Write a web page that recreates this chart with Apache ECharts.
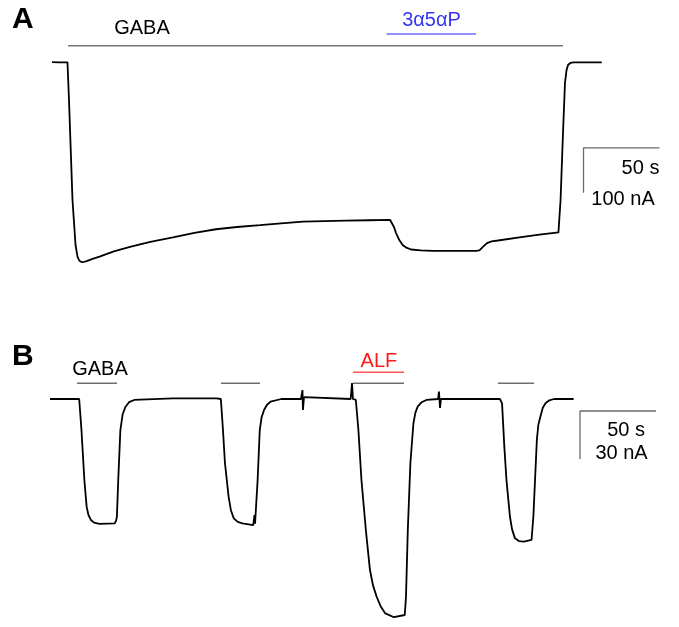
<!DOCTYPE html>
<html>
<head>
<meta charset="utf-8">
<script src="https://cdn.jsdelivr.net/npm/echarts@6/dist/echarts.min.js"></script>
<style>
html,body{margin:0;padding:0;background:#fff;}
#chart{width:679px;height:627px;}
</style>
</head>
<body>
<div id="chart"></div>
<script>
// ---- Panel A trace: [time (s), current (nA)] ----
var traceA = [
  [1.3, 0.5], [6, 0], [11.5, 0], [12.5, -84], [14.8, -306], [16.8, -406], [18.1, -432],
  [19.3, -441], [20.7, -444], [22.4, -443.5], [24.1, -442], [28, -437], [32.6, -432],
  [42, -420], [52.6, -410], [66, -399], [80.9, -389], [95, -379], [109.2, -371],
  [123, -366], [138.2, -362], [152, -358], [166.4, -354], [180, -353], [194.7, -352],
  [210, -351], [223.7, -350], [225, -352], [226.3, -366], [227.6, -379], [229.8, -395],
  [232, -406], [234.5, -412], [237.5, -416], [244, -418], [252, -419], [280.3, -419],
  [282.5, -418], [283.6, -416], [285.5, -408], [287.5, -402], [290.5, -398], [294.7, -396],
  [308.9, -389], [322, -383], [334.5, -378], [335.9, -306], [337.5, -157], [338.8, -46],
  [339.8, -18], [340.8, -6], [342.3, -1.5], [344.5, 0], [363, 0]
];
// ---- Panel B trace ----
var traceB = [
  [0, 0], [19.2, 0], [20.7, -19.4], [22.6, -50.6], [24.1, -67.3], [25.3, -72.5], [26.9, -75.6],
  [29, -77.3], [32.6, -78.1], [42.6, -77.7], [43.5, -76], [44, -73.6], [44.9, -50.6],
  [46.3, -19.4], [47.8, -9.5], [49.7, -4.8], [52, -2], [55.4, -0.6], [80.9, 0.4],
  [109.5, 0.4], [112.4, 0], [113.8, -19.4], [115.1, -40], [117.5, -61], [119, -69.5],
  [120.9, -74.6], [123.5, -76.8], [126.6, -77.7], [133.7, -78.8], [134.5, -72.5],
  [134.9, -78], [136.6, -50.6], [138, -19.4], [139.2, -11.5], [140.8, -6.9], [142.8, -3.6],
  [145.1, -1.7], [152.2, 0], [165.1, 0], [166.1, 5.6], [166.4, -6.9], [167.1, 1.2],
  [168.4, 0], [197.8, 0], [198.7, 10], [199.3, 0], [201.2, -0.6], [202.9, -19.4],
  [204.9, -50.6], [207.8, -81.9], [210.5, -106.9], [212.5, -116.5], [214.9, -123.6],
  [217.5, -129.5], [220.6, -134], [226.3, -136.4], [233.4, -135], [234.2, -123.6],
  [235.4, -81.9], [237.1, -40], [239.1, -15.2], [240.4, -8.5], [241.9, -4.8], [244.5, -2],
  [247.6, -0.6], [255.3, 0], [255.9, 4.6], [256.6, -5.6], [257.2, 0], [280.3, 0], [296, 0],
  [297.4, -2.7], [298.9, -29.8], [300.3, -50.6], [302.6, -73.6], [304, -81.5],
  [305.9, -87.1], [308.5, -88.8], [311.7, -89.2], [316.8, -88.1], [318, -73.6],
  [319.1, -50.6], [320.3, -25.6], [321.3, -16], [322.6, -11.1], [324.2, -5.5],
  [326, -2.7], [328.5, -0.8], [331.6, 0], [344.5, 0]
];
// ---- Application bars: [start s, end s, level nA] ----
var barsA_gaba = [[11.8, 337.5, 36.9]];
var barsA_drug = [[221.4, 280.3, 62.9]];
var barsB_gaba = [[17.8, 44.1, 9.8], [112.5, 138.2, 9.8], [199.3, 232.9, 9.8], [294.7, 318.4, 9.8]];
var barsB_drug = [[199.3, 232.9, 16.7]];
// ---- Scale bars: [x0 s, y0 nA, length s, height nA] ----
var scaleA = [351, -190, 50, 100];
var scaleB = [348.7, -7.5, 50, 30];
// ---- Labels: [text, t, I, colour] ----
var labelsA = [["GABA", 60.5, 76, "#000"], ["3\u03b15\u03b1P", 251, 92, "#3535ee"],
               ["50 s", 388.5, -235, "#000"], ["100 nA", 377, -305, "#000"]];
var labelsB = [["GABA", 32.9, 18.6, "#000"], ["ALF", 216.4, 23.3, "#ff1a1a"],
               ["50 s", 379, -19.4, "#000"], ["30 nA", 376, -33.8, "#000"]];

var chart = echarts.init(document.getElementById('chart'), null, {renderer: 'canvas'});
var FONT = 'Liberation Sans, Arial, sans-serif';

function barSeries(bars, grid, color, width) {
  return bars.map(function (b) {
    return {
      type: 'line', xAxisIndex: grid, yAxisIndex: grid, symbol: 'none', silent: true,
      lineStyle: {color: color, width: width}, data: [[b[0], b[2]], [b[1], b[2]]]
    };
  });
}
function scaleSeries(s, grid) {
  return {
    type: 'line', xAxisIndex: grid, yAxisIndex: grid, symbol: 'none', silent: true,
    lineStyle: {color: '#6a6a6a', width: 1.3},
    data: [[s[0] + s[2], s[1]], [s[0], s[1]], [s[0], s[1] - s[3]]]
  };
}
function labelSeries(labels, grid) {
  return {
    type: 'scatter', xAxisIndex: grid, yAxisIndex: grid, symbolSize: 1, silent: true,
    itemStyle: {color: 'rgba(255,255,255,0)', opacity: 1},
    data: labels.map(function (l) {
      return {
        value: [l[1], l[2]],
        label: {show: true, position: 'inside', formatter: l[0], color: l[3], opacity: 1,
                textBorderWidth: 0, fontSize: 20, fontFamily: FONT}
      };
    })
  };
}

var hiddenX = {type: 'value', min: 0, max: 410, show: false};
var series = [
  {type: 'line', xAxisIndex: 0, yAxisIndex: 0, symbol: 'none', silent: true,
   lineStyle: {color: '#000', width: 1.8}, data: traceA},
  {type: 'line', xAxisIndex: 1, yAxisIndex: 1, symbol: 'none', silent: true,
   lineStyle: {color: '#000', width: 1.8}, data: traceB},
  scaleSeries(scaleA, 0), scaleSeries(scaleB, 1),
  labelSeries(labelsA, 0), labelSeries(labelsB, 1)
].concat(barSeries(barsA_gaba, 0, '#7a7a7a', 1.6))
 .concat(barSeries(barsA_drug, 0, '#6b6bff', 1.6))
 .concat(barSeries(barsB_gaba, 1, '#6e6e6e', 1.6))
 .concat(barSeries(barsB_drug, 1, '#ff5555', 1.6));

chart.setOption({
  animation: false,
  backgroundColor: '#fff',
  grid: [
    {left: 50, top: 17.3, width: 623.2, height: 270},
    {left: 50, top: 335, width: 623.2, height: 288}
  ],
  xAxis: [Object.assign({gridIndex: 0}, hiddenX), Object.assign({gridIndex: 1}, hiddenX)],
  yAxis: [
    {type: 'value', gridIndex: 0, min: -500, max: 100, show: false},
    {type: 'value', gridIndex: 1, min: -140, max: 40, show: false}
  ],
  graphic: [
    {type: 'text', left: 12, top: 5, style: {text: 'A', fontSize: 30, fontWeight: 'bold', fontFamily: FONT, fill: '#000'}},
    {type: 'text', left: 12, top: 342, style: {text: 'B', fontSize: 30, fontWeight: 'bold', fontFamily: FONT, fill: '#000'}}
  ],
  series: series
});
</script>
</body>
</html>
